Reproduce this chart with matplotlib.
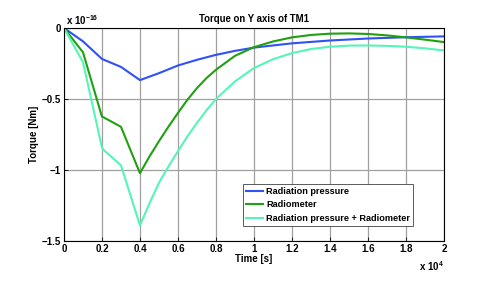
import numpy as np
import matplotlib.pyplot as plt

# time in units of 1e4 s, torque in units of 1e-16 Nm
t_b = [0, 0.1, 0.2, 0.3, 0.4, 0.5, 0.6, 0.7, 0.8, 0.9, 1.0, 1.2, 1.4, 1.6, 1.8, 2.0]
rad_pressure = [0, -0.094, -0.218, -0.274, -0.367, -0.318, -0.264, -0.224, -0.189, -0.161, -0.138,
                -0.108, -0.088, -0.074, -0.065, -0.059]

t_g = [0, 0.1, 0.2, 0.21, 0.3, 0.4, 0.42, 0.45, 0.5, 0.55, 0.6, 0.65, 0.7, 0.75, 0.8, 0.9, 1.0,
       1.1, 1.2, 1.3, 1.4, 1.5, 1.6, 1.7, 1.8, 1.9, 2.0]
radiometer = [0, -0.171, -0.625, -0.63, -0.696, -1.023, -0.975, -0.905, -0.797, -0.695, -0.598,
              -0.505, -0.423, -0.353, -0.294, -0.196, -0.135, -0.095, -0.066, -0.049, -0.040,
              -0.038, -0.042, -0.052, -0.066, -0.082, -0.099]

t_c = [0, 0.1, 0.2, 0.21, 0.3, 0.4, 0.45, 0.5, 0.55, 0.6, 0.65, 0.7, 0.75, 0.8, 0.9, 1.0,
       1.1, 1.2, 1.3, 1.4, 1.5, 1.6, 1.7, 1.8, 1.9, 2.0]
combined = [0, -0.241, -0.843, -0.86, -0.967, -1.39, -1.235, -1.09, -0.975, -0.867, -0.763,
            -0.668, -0.580, -0.500, -0.376, -0.282, -0.220, -0.177, -0.148, -0.132, -0.124,
            -0.123, -0.126, -0.132, -0.143, -0.158]

labels = ["Radiation pressure", "Radiometer", "Radiation pressure + Radiometer"]
colors = ["#3050f8", "#20a010", "#55f5b8"]

plt.rcParams['font.family'] = ['Liberation Sans', 'DejaVu Sans']
plt.rcParams['font.weight'] = 'bold'
plt.rcParams['font.size'] = 7
plt.rcParams['mathtext.fontset'] = 'custom'
plt.rcParams['mathtext.rm'] = 'Liberation Sans:bold'
plt.rcParams['mathtext.bf'] = 'Liberation Sans:bold'

fig = plt.figure(figsize=(4.91, 2.84), dpi=100)
ax = fig.add_axes([0.1303, 0.1514, 0.7739, 0.75])

ax.plot(t_b, rad_pressure, color=colors[0], lw=1.5, label=labels[0])
ax.plot(t_g, radiometer, color=colors[1], lw=1.5, label=labels[1])
ax.plot(t_c, combined, color=colors[2], lw=1.5, label=labels[2])

ax.set_xlim(0, 2)
ax.set_ylim(-1.5, 0)
xt = np.round(np.arange(0, 2.01, 0.2), 1)
ax.set_xticks(xt)
ax.set_xticklabels([("%g" % v) for v in xt])
ax.set_yticks([-1.5, -1, -0.5, 0])
ax.set_yticklabels(["\u22121.5", "\u22121", "\u22120.5", "0"])
ax.tick_params(direction='in', length=3, width=0.6, pad=2, labelsize=7)
ax.grid(True, color='#a0a0a0', lw=0.9)
for s in ax.spines.values():
    s.set_linewidth(0.8)

ax.set_title("Torque on Y axis of TM1", fontsize=6.9, fontweight='bold', pad=4)
ax.set_xlabel("Time [s]", fontweight='bold', labelpad=0, fontsize=7)
ax.set_ylabel("Torque [Nm]", fontweight='bold', labelpad=2, fontsize=7)

ax.text(0.005, 1.003, r"x 10$^{-16}$", transform=ax.transAxes, fontsize=7, va='bottom', ha='left')
ax.text(1.0, -0.085, r"x 10$^{4}$", transform=ax.transAxes, fontsize=7, va='top', ha='right')

leg = ax.legend(loc='lower right', bbox_to_anchor=(0.919, 0.07), fontsize=6.6, frameon=True, fancybox=False,
                edgecolor='#404040', framealpha=1, borderpad=0.35, labelspacing=0.5, handlelength=1.9,
                handletextpad=0.3, borderaxespad=0)
leg.get_frame().set_linewidth(0.6)

fig.savefig("out.png", dpi=100)
